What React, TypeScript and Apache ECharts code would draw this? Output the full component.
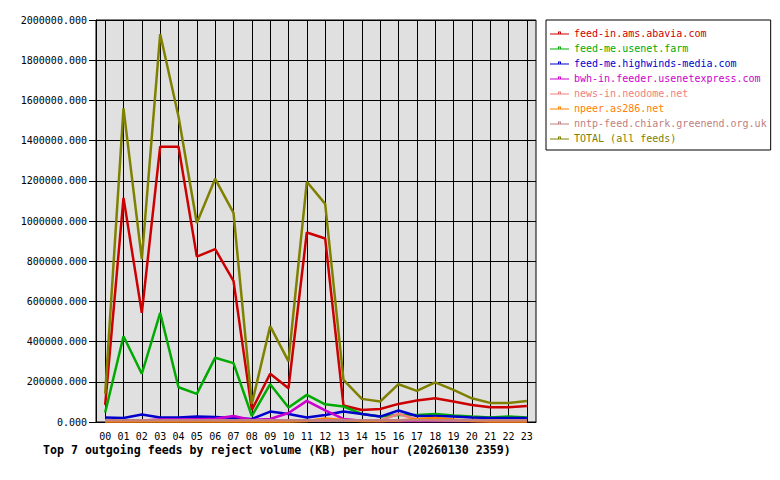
import React, { useEffect, useRef } from "react";
import * as echarts from "echarts";

const hours = ["00","01","02","03","04","05","06","07","08","09","10","11","12","13","14","15","16","17","18","19","20","21","22","23"];
const yTicks = [0, 2000000, 200000];

const seriesNames = [
  "feed-in.ams.abavia.com",
  "feed-me.usenet.farm",
  "feed-me.highwinds-media.com",
  "bwh-in.feeder.usenetexpress.com",
  "news-in.neodome.net",
  "npeer.as286.net",
  "nntp-feed.chiark.greenend.org.uk",
  "TOTAL (all feeds)",
];
const seriesColors = ["#cc0000", "#00aa00", "#0000cc", "#cc00cc", "#f08080", "#ff8000", "#c08080", "#808000"];

const abavia = [85000, 1115000, 543000, 1370000, 1370000, 823000, 860000, 702000, 60000, 240000, 168000, 943000, 913000, 82000, 60000, 65000, 90000, 107000, 118000, 102000, 85000, 73000, 73000, 80000];
const usenetFarm = [47000, 427000, 240000, 543000, 173000, 140000, 320000, 293000, 30000, 188000, 72000, 135000, 88000, 77000, 40000, 27000, 35000, 35000, 40000, 32000, 27000, 23000, 27000, 23000];
const highwinds = [22000, 20000, 37000, 22000, 22000, 27000, 25000, 20000, 15000, 52000, 40000, 22000, 35000, 52000, 40000, 27000, 57000, 30000, 30000, 27000, 22000, 20000, 20000, 20000];
const usenetexpress = [5000, 5000, 8000, 12000, 12000, 14000, 16000, 30000, 10000, 15000, 45000, 105000, 58000, 15000, 6000, 5000, 5000, 5000, 5000, 5000, 5000, 5000, 5000, 5000];
const neodome = [6000, 6000, 6000, 6000, 6000, 6000, 6000, 6000, 6000, 6000, 6000, 6000, 8000, 10000, 8000, 8000, 40000, 14000, 10000, 8000, 6000, 6000, 6000, 6000];
const npeer = [3000, 3000, 3000, 3000, 3000, 3000, 3000, 3000, 3000, 3000, 3000, 5000, 18000, 10000, 5000, 5000, 8000, 15000, 20000, 12000, 5000, 3000, 3000, 3000];
const chiark = [9000, 9000, 9000, 9000, 9000, 9000, 9000, 9000, 9000, 9000, 9000, 9000, 9000, 9000, 9000, 9000, 9000, 9000, 9000, 9000, 9000, 9000, 9000, 9000];
const total = [140000, 1560000, 810000, 1930000, 1520000, 990000, 1210000, 1040000, 90000, 477000, 302000, 1195000, 1085000, 210000, 115000, 102000, 188000, 155000, 197000, 160000, 118000, 95000, 95000, 105000];

const seriesData = [abavia, usenetFarm, highwinds, usenetexpress, neodome, npeer, chiark, total];

const MONO = "DejaVu Sans Mono";
const legendIcon = "path://M0,5L19,5L19,6L0,6Z M8,3L11,3L11,6L8,6Z M9,4L9,5L10,5L10,4Z";

export default function App() {
  const ref = useRef<HTMLDivElement>(null);
  useEffect(() => {
    if (!ref.current) return;
    const chart = echarts.init(ref.current, null, { renderer: "svg" });
    chart.setOption({
      animation: false,
      backgroundColor: "#ffffff",
      title: {
        text: "Top 7 outgoing feeds by reject volume (KB) per hour (20260130 2359)",
        left: 43,
        top: 444,
        padding: 0,
        textStyle: { fontFamily: MONO, fontSize: 11.6, fontWeight: "bold", color: "#000" },
      },
      legend: {
        orient: "vertical",
        left: 546,
        top: 20,
        padding: [8, 4, 7, 4],
        itemGap: 5,
        itemWidth: 19,
        itemHeight: 10,
        backgroundColor: "#ffffff",
        borderColor: "#000000",
        borderWidth: 1,
        borderRadius: 0,
        icon: legendIcon,
        textStyle: { fontFamily: MONO, fontSize: 10 },
        data: seriesNames.map((n, i) => ({ name: n, textStyle: { color: seriesColors[i] } })),
      },
      grid: {
        left: 96,
        top: 20,
        width: 440,
        height: 402,
        show: true,
        backgroundColor: "#e0e0e0",
        borderColor: "#000000",
        borderWidth: 1,
        containLabel: false,
      },
      xAxis: {
        type: "category",
        data: hours,
        boundaryGap: true,
        axisLine: { lineStyle: { color: "#000", width: 1 } },
        axisTick: { alignWithLabel: true, length: 4, lineStyle: { color: "#000" } },
        axisLabel: { fontFamily: MONO, fontSize: 10, color: "#000", margin: 9, interval: 0 },
        splitLine: { show: true, alignWithLabel: true, lineStyle: { color: "#000", width: 1 } },
      },
      yAxis: {
        type: "value",
        min: yTicks[0],
        max: yTicks[1],
        interval: yTicks[2],
        axisLine: { show: true, lineStyle: { color: "#000" } },
        axisTick: { show: true, length: 7, lineStyle: { color: "#000" } },
        axisLabel: {
          fontFamily: MONO,
          fontSize: 10,
          color: "#000",
          margin: 9,
          formatter: (v: number) => v.toFixed(3),
        },
        splitLine: { show: true, lineStyle: { color: "#000", width: 1 } },
      },
      series: seriesNames.map((n, i) => ({
        name: n,
        type: "line",
        data: seriesData[i],
        showSymbol: false,
        symbol: "none",
        color: seriesColors[i],
        lineStyle: { color: seriesColors[i], width: 2.5 },
        itemStyle: { color: seriesColors[i] },
      })),
    });
    return () => chart.dispose();
  }, []);
  return <div ref={ref} style={{ position: "fixed", left: 0, top: 0, width: 780, height: 480 }} />;
}
